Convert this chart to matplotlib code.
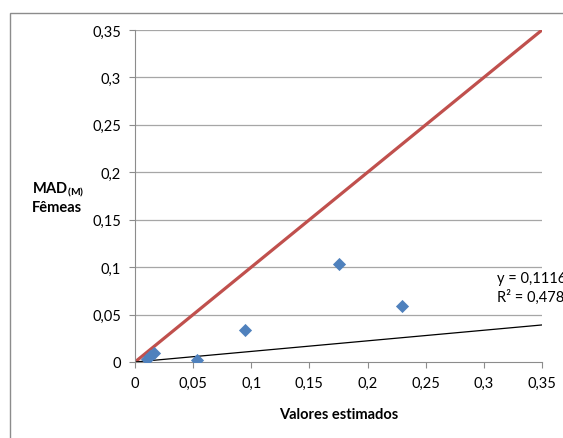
import matplotlib.pyplot as plt
from matplotlib.patches import Rectangle

# estimated vs observed
x_est = [0.010, 0.013, 0.016, 0.053, 0.095, 0.175, 0.230]
y_mad = [0.003, 0.006, 0.009, 0.002, 0.034, 0.103, 0.059]
slope = 0.1116
r2 = 0.4785
ticks = [0, 0.05, 0.1, 0.15, 0.2, 0.25, 0.3, 0.35]
tick_labels = ['0', '0,05', '0,1', '0,15', '0,2', '0,25', '0,3', '0,35']

plt.rcParams['font.family'] = ['Lato', 'DejaVu Sans']
plt.rcParams['mathtext.fontset'] = 'custom'
plt.rcParams['mathtext.rm'] = 'Lato'
plt.rcParams['mathtext.bf'] = 'Lato:bold'

fig = plt.figure(figsize=(5.63, 4.39), dpi=100)
fig.patches.append(Rectangle((10/563, -0.05), 1.1, 0.05 + 1 - 14/439,
                             transform=fig.transFigure, fill=False,
                             edgecolor='#8c8c8c', linewidth=1))
ax = fig.add_axes([135/563, 1 - 363/439, 407/563, 332/439])

ax.set_xlim(0, 0.35)
ax.set_ylim(0, 0.35)
for t in ticks[1:]:
    ax.axhline(t, color='#a6a6a6', linewidth=0.9, zorder=0)

ax.plot([0, 0.35], [0, 0.35], color='#C0504D', linewidth=2.3, zorder=2)
ax.plot([0, 0.35], [0, slope * 0.35], color='black', linewidth=0.9, zorder=2)
ax.scatter(x_est, y_mad, marker='D', s=45, color='#4F81BD', zorder=3, linewidths=0)

ax.set_xticks(ticks)
ax.set_xticklabels(tick_labels)
ax.set_yticks(ticks)
ax.set_yticklabels(tick_labels)
ax.tick_params(length=4, color='#8c8c8c', labelsize=10.5, pad=6)
for s in ['top', 'right']:
    ax.spines[s].set_visible(False)
for s in ['left', 'bottom']:
    ax.spines[s].set_color('#8c8c8c')

ax.set_xlabel('Valores estimados', fontsize=10.5, fontweight='bold', labelpad=12)

fig.text(32/563, 1 - 190/439, r'$\mathbf{MAD}_{\mathbf{(M)}}$', fontsize=10.5,
         ha='left', va='center')
fig.text(32/563, 1 - 208/439, 'Fêmeas', fontsize=10.5, fontweight='bold',
         ha='left', va='center')

fig.text(497/563, 1 - 279/439, 'y = 0,1116x', fontsize=10.5, ha='left', va='center')
fig.text(497/563, 1 - 297/439, 'R² = 0,4785', fontsize=10.5, ha='left', va='center')

fig.savefig('out.png', dpi=100)
